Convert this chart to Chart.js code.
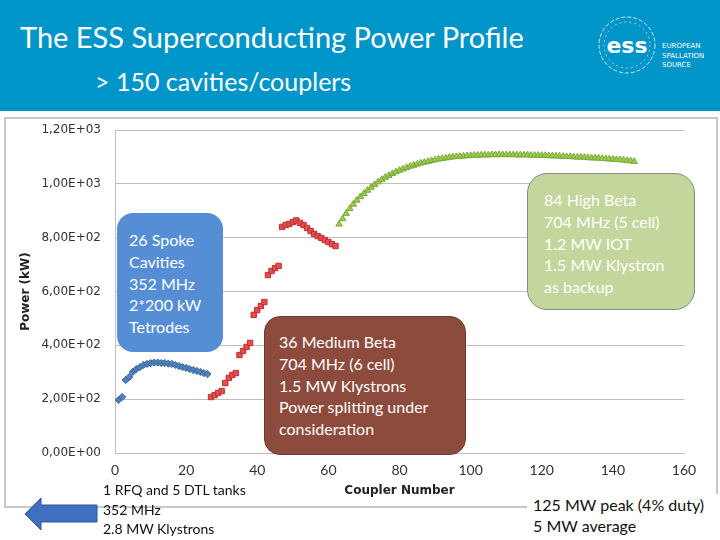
<!DOCTYPE html>
<html>
<head>
<meta charset="utf-8">
<script src="https://cdn.jsdelivr.net/npm/chart.js@4.4.1/dist/chart.umd.min.js"></script>
<style>
  body { margin: 0; background: #fff; }
  #slide { position: relative; width: 720px; height: 540px; overflow: hidden; background: #fff; font-family: Lato, "Open Sans", sans-serif; }
  #band { position: absolute; left: 0; top: 0; width: 720px; height: 111px; background: #0095c8; }
  .white { color: #fff; white-space: nowrap; position: absolute; }
  #title { left: 20px; top: 19px; font-size: 29px; }
  #subtitle { left: 95px; top: 66px; font-size: 25px; }
  #frame { position: absolute; left: 4px; top: 117px; width: 710px; height: 387px; border: 2px solid #c8c8c8; }
  #chartBox { position: absolute; left: 5px; top: 118px; }
  .box { position: absolute; border-radius: 16px; }
  .boxText { position: absolute; color: #fff; font-size: 16px; line-height: 21.75px; white-space: nowrap; }
  .note { position: absolute; color: #111; white-space: nowrap; background: #fff; }
</style>
</head>
<body>
<div id="slide">
  <div id="band"></div>
  <div id="title" class="white">The ESS Superconducting Power Profile</div>
  <div id="subtitle" class="white">&gt; 150 cavities/couplers</div>
  <svg style="position:absolute;left:592px;top:14px" width="128" height="64">
    <circle cx="35" cy="31" r="28" fill="none" stroke="#fff" stroke-width="0.8" stroke-dasharray="4 2"/>
    <circle cx="35" cy="31" r="23" fill="none" stroke="#fff" stroke-width="0.6" stroke-dasharray="2 3"/>
    <text x="35" y="39" fill="#fff" font-family="DejaVu Sans" font-weight="bold" font-size="22" text-anchor="middle">ess</text>
    <text x="70" y="34" fill="#fff" font-family="DejaVu Sans" font-size="7">EUROPEAN</text>
    <text x="70" y="44" fill="#fff" font-family="DejaVu Sans" font-size="7">SPALLATION</text>
    <text x="70" y="53" fill="#fff" font-family="DejaVu Sans" font-size="7">SOURCE</text>
  </svg>

  <div id="frame"></div>
  <div id="chartBox"><canvas id="chart" width="711" height="388"></canvas></div>

  <div class="box" style="left:117px;top:213px;width:106px;height:139px;background:#558ed5;"></div>
  <div class="boxText" style="left:129px;top:229px;">26 Spoke<br>Cavities<br>352 MHz<br>2*200 kW<br>Tetrodes</div>

  <div class="box" style="left:264px;top:316px;width:202px;height:139px;background:#8c4b3c;border:1px solid #6e3a2f;box-sizing:border-box;"></div>
  <div class="boxText" style="left:279px;top:331px;">36 Medium Beta<br>704 MHz (6 cell)<br>1.5 MW Klystrons<br>Power splitting under<br>consideration</div>

  <div class="box" style="left:527px;top:173px;width:168px;height:137px;background:#c3d69b;border:1px solid #7f8f86;box-sizing:border-box;border-radius:20px;"></div>
  <div class="boxText" style="left:544px;top:189px;">84 High Beta<br>704 MHz (5 cell)<br>1.2 MW IOT<br>1.5 MW Klystron<br>as backup</div>

  <div class="note" style="left:103px;top:480px;font-size:14px;line-height:19.5px;background:transparent;">1 RFQ and 5 DTL tanks<br>352 MHz<br>2.8 MW Klystrons</div>
  <svg style="position:absolute;left:22px;top:496px" width="80" height="38">
    <polygon points="3,18 19,2 19,9 75,9 75,26 19,26 19,34" fill="#3f6fbf" stroke="#2f5597" stroke-width="1"/>
  </svg>
  <div class="note" style="left:527px;top:494px;width:193px;padding-left:6px;font-size:16px;line-height:21px;">125 MW peak (4% duty)<br>5 MW average</div>
</div>

<script>
// coupler numbers are consecutive, each section starts at its first coupler
const spokeStart = 1;
const spokePower = [197, 208, 271, 282, 301, 312, 319, 327, 331, 334, 336, 336, 334,
  334, 332, 331, 327, 323, 319, 316, 312, 308, 305, 301, 297, 293];

const mediumStart = 27;
const mediumPower = [208, 215, 223, 230, 260, 279, 290, 297, 364, 379, 394, 409,
  513, 531, 546, 561, 661, 676, 687, 695, 840, 847, 851, 858, 864, 855, 847, 836,
  825, 814, 806, 799, 791, 784, 776, 769];

const highStart = 63;
const highPower = [850, 870, 890, 908, 924, 939, 952, 964, 976, 987, 997, 1007,
  1016, 1024, 1031, 1038, 1044, 1050, 1055, 1060, 1065, 1069, 1073, 1077, 1080,
  1083, 1086, 1089, 1092, 1094, 1096, 1098, 1100, 1101, 1102, 1103, 1104, 1105,
  1106, 1106, 1107, 1107, 1107, 1108, 1108, 1108, 1108, 1108, 1108, 1108, 1107,
  1107, 1107, 1107, 1106, 1106, 1106, 1105, 1105, 1104, 1104, 1103, 1103, 1102,
  1101, 1101, 1100, 1099, 1099, 1098, 1097, 1096, 1096, 1095, 1094, 1093, 1092,
  1091, 1090, 1089, 1088, 1086, 1085, 1083];

const xMax = 160;
const xStep = 20;
const yMax = 1200;
const yStep = 200;

const toPoints = (start, values) => values.map((v, i) => ({ x: start + i, y: v }));

// Excel style "1,20E+03"
const sciLabel = (value) => {
  const parts = Number(value).toExponential(2).split("e");
  const exp = parseInt(parts[1], 10);
  return parts[0].replace(".", ",") + "E" + (exp < 0 ? "-" : "+") + String(Math.abs(exp)).padStart(2, "0");
};

const gridGrey = "#bfbfbf";

new Chart(document.getElementById("chart").getContext("2d"), {
  type: "scatter",
  data: {
    datasets: [
      {
        label: "Spoke",
        data: toPoints(spokeStart, spokePower),
        pointStyle: "rectRot",
        pointRadius: 3.6,
        backgroundColor: "#4f81bd",
        borderColor: "#3a67a0",
        borderWidth: 1,
      },
      {
        label: "Medium Beta",
        data: toPoints(mediumStart, mediumPower),
        pointStyle: "rect",
        pointRadius: 3.8,
        backgroundColor: "#ea4b4d",
        borderColor: "#b83234",
        borderWidth: 1,
      },
      {
        label: "High Beta",
        data: toPoints(highStart, highPower),
        pointStyle: "triangle",
        pointRadius: 3.8,
        backgroundColor: "#9bcb4f",
        borderColor: "#7aa83a",
        borderWidth: 1,
      },
    ],
  },
  options: {
    responsive: false,
    animation: false,
    layout: { padding: { left: 0, top: 12, right: 32, bottom: 0 } },
    plugins: {
      legend: { display: false },
      tooltip: { enabled: false },
    },
    scales: {
      x: {
        type: "linear",
        min: 0,
        max: xMax,
        ticks: { stepSize: xStep, padding: 9, color: "#333", font: { family: "Lato", size: 14 } },
        grid: { display: false, drawTicks: false },
        border: { display: true, color: gridGrey },
        title: {
          display: true,
          text: "Coupler Number",
          color: "#222",
          font: { family: "DejaVu Sans", size: 12, weight: "bold" },
          padding: { top: 0, bottom: 8 },
        },
        afterFit: (scale) => { scale.height = 53; },
      },
      y: {
        min: 0,
        max: yMax,
        ticks: { stepSize: yStep, padding: 14, color: "#333", callback: sciLabel, font: { family: "DejaVu Sans", size: 12 } },
        grid: { color: gridGrey, drawTicks: false },
        border: { display: true, color: gridGrey },
        title: {
          display: true,
          text: "Power (kW)",
          color: "#222",
          font: { family: "DejaVu Sans", size: 12, weight: "bold" },
          padding: { top: 14, bottom: 0 },
        },
        afterFit: (scale) => {
          scale.width = 110;
          // let the layout padding alone decide where the plot starts
          scale.paddingTop = 0;
          scale.paddingBottom = 0;
        },
      },
    },
  },
});
</script>
</body>
</html>
